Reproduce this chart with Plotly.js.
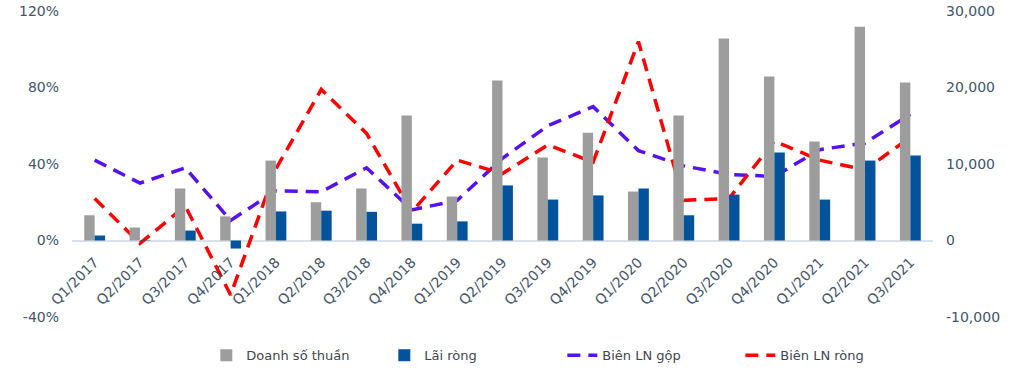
<!DOCTYPE html>
<html>
<head>
<meta charset="utf-8">
<script src="https://cdn.plot.ly/plotly-3.0.1.min.js"></script>
<style>html,body{margin:0;padding:0;background:#fff;}#chart{width:1021px;height:370px;}</style>
</head>
<body>
<div id="chart"></div>
<script>
const quarters = ["Q1/2017","Q2/2017","Q3/2017","Q4/2017","Q1/2018","Q2/2018","Q3/2018","Q4/2018","Q1/2019","Q2/2019","Q3/2019","Q4/2019","Q1/2020","Q2/2020","Q3/2020","Q4/2020","Q1/2021","Q2/2021","Q3/2021"];
const doanhSoThuan = [3300,1700,6800,3150,10450,5000,6800,16350,5750,20900,10850,14100,6400,16350,26400,21450,12950,27950,20650];
const laiRong = [650,50,1300,-1050,3800,3900,3750,2200,2500,7200,5350,5900,6800,3300,6000,11500,5350,10450,11100];
const bienLNGop = [42,30,38,10.5,26,25.5,38,16,21,43,60,70,47,39,34.5,33.5,47.5,51,66];
const bienLNRong = [22,-1.5,18,-28.5,37.5,79,56,15,42,35,50,41,104,21,22,52,42,37,54];
const leftTicks = [-40,0,40,80,120];
const leftTickText = ["-40%","0%","40%","80%","120%"];
const rightTicks = [-10000,0,10000,20000,30000];
const rightTickText = ["-10,000","0","10,000","20,000","30,000"];

const font = "DejaVu Sans";
const tickColor = "#44546A";

const traces = [
  {type:"bar", name:"Doanh số thuần", x:quarters, y:doanhSoThuan, yaxis:"y2",
   marker:{color:"#9d9d9d"}},
  {type:"bar", name:"Lãi ròng", x:quarters, y:laiRong, yaxis:"y2",
   marker:{color:"#03539c"}},
  {type:"scatter", mode:"lines", name:"Biên LN gộp", x:quarters, y:bienLNGop, yaxis:"y",
   line:{color:"#5512ee", width:3.5, dash:"13px,8px"}},
  {type:"scatter", mode:"lines", name:"Biên LN ròng", x:quarters, y:bienLNRong, yaxis:"y",
   line:{color:"#ff0000", width:3.5, dash:"13px,8px"}}
];

const layout = {
  width:1021, height:370,
  margin:{l:72, r:88, t:11, b:53, autoexpand:false},
  paper_bgcolor:"#fff", plot_bgcolor:"#fff",
  font:{family:font, size:13, color:tickColor},
  barmode:"group", bargap:0.54, bargroupgap:0,
  showlegend:true,
  hovermode:false,
  legend:{orientation:"h", x:0.156, xanchor:"left", y:-0.125, yanchor:"middle",
          font:{family:font, size:13, color:"#3f4651"}, traceorder:"normal",
          entrywidth:133, entrywidthmode:"pixels"},
  xaxis:{type:"category", anchor:"free", position:0.25, tickangle:-45,
         showgrid:false, showline:false, ticks:"", zeroline:false, automargin:false,
         ticklabelstandoff:10,
         tickfont:{family:font, size:14, color:tickColor}},
  yaxis:{range:[-40,120], tickvals:leftTicks, ticktext:leftTickText, showgrid:false,
         zeroline:true, zerolinecolor:"#d9e1ea", zerolinewidth:2, automargin:false,
         showline:false, ticks:"", ticklabelstandoff:12,
         tickfont:{family:font, size:14, color:tickColor}},
  yaxis2:{range:[-10000,30000], tickvals:rightTicks, ticktext:rightTickText, overlaying:"y", side:"right",
          showgrid:false, zeroline:false, showline:false, ticks:"", ticklabelstandoff:12, automargin:false,
          tickfont:{family:font, size:14, color:tickColor}}
};

Plotly.newPlot("chart", traces, layout, {displayModeBar:false, staticPlot:true});
</script>
</body>
</html>
